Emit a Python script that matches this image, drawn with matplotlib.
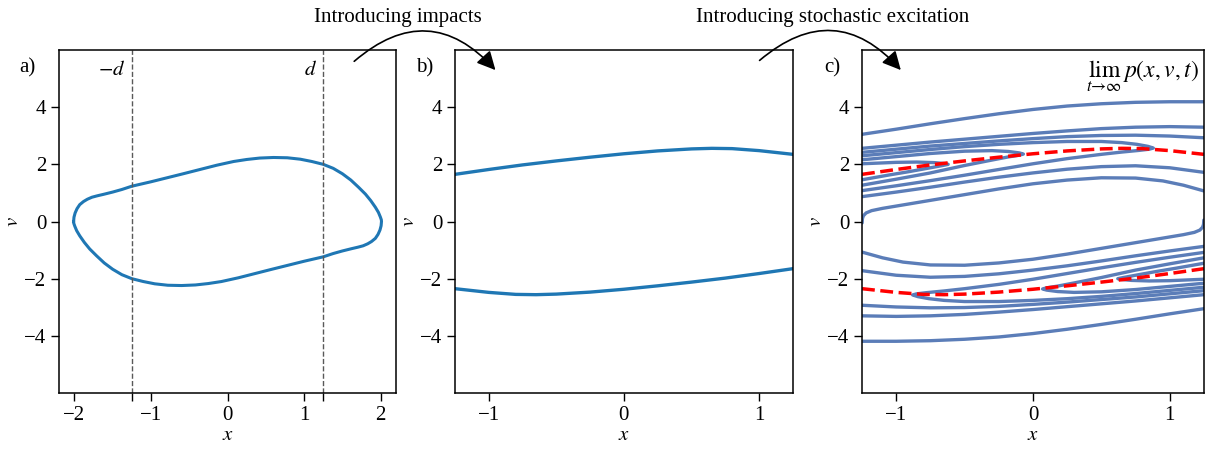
import matplotlib.pyplot as plt
from matplotlib.patches import FancyArrowPatch

plt.rcParams.update({
    'font.family': 'Liberation Serif',
    'mathtext.fontset': 'stix',
    'font.size': 15,
    'axes.linewidth': 1.1,
    'xtick.major.size': 5.5,
    'ytick.major.size': 5.5,
    'xtick.major.width': 1.0,
    'ytick.major.width': 1.0,
    'lines.solid_joinstyle': 'round',
})

# --- panel a: limit cycle of the free oscillator ---
loop_x = [-2.01, -2.005, -1.99, -1.965, -1.93, -1.88, -1.83, -1.77, -1.7, -1.62, -1.5, -1.38,
          -1.25, -1.0, -0.79, -0.58, -0.36, -0.14, 0.08, 0.25, 0.42, 0.6, 0.78, 0.95, 1.1,
          1.25, 1.38, 1.5, 1.61, 1.71, 1.8, 1.87, 1.93, 1.97, 1.995, 2.008,
          2.01, 2.005, 1.99, 1.965, 1.93, 1.88, 1.83, 1.77, 1.7, 1.62, 1.5, 1.38,
          1.25, 1.0, 0.79, 0.58, 0.36, 0.14, -0.08, -0.25, -0.42, -0.6, -0.78, -0.95, -1.1,
          -1.25, -1.38, -1.5, -1.61, -1.71, -1.8, -1.87, -1.93, -1.97, -1.995, -2.008, -2.01]
loop_v = [0.0, 0.15, 0.3, 0.45, 0.59, 0.7, 0.78, 0.85, 0.9, 0.95, 1.03, 1.12,
          1.235, 1.39, 1.53, 1.67, 1.82, 1.97, 2.1, 2.17, 2.22, 2.24, 2.23, 2.18, 2.1,
          2.0, 1.86, 1.67, 1.45, 1.2, 0.96, 0.73, 0.5, 0.32, 0.16, 0.06,
          0.0, -0.15, -0.3, -0.45, -0.59, -0.7, -0.78, -0.85, -0.9, -0.95, -1.03, -1.12,
          -1.235, -1.39, -1.53, -1.67, -1.82, -1.97, -2.1, -2.17, -2.22, -2.24, -2.23, -2.18, -2.1,
          -2.0, -1.86, -1.67, -1.45, -1.2, -0.96, -0.73, -0.5, -0.32, -0.16, -0.06, 0.0]
d = 1.25

# --- panel b: periodic orbit with impacts ---
orb_up_x = [-1.25, -1.0, -0.75, -0.5, -0.25, 0.0, 0.25, 0.5, 0.65, 0.8, 1.0, 1.25]
orb_up_v = [1.65, 1.82, 1.98, 2.12, 2.25, 2.37, 2.47, 2.54, 2.56, 2.55, 2.48, 2.35]
orb_lo_x = [-1.25, -1.0, -0.8, -0.65, -0.5, -0.25, 0.0, 0.25, 0.5, 0.75, 1.0, 1.25]
orb_lo_v = [-2.35, -2.48, -2.55, -2.56, -2.54, -2.47, -2.37, -2.25, -2.12, -1.98, -1.82, -1.65]

# --- panel c: contour lines of the stationary density ---
grid_x = [-1.25, -1.0, -0.75, -0.5, -0.25, 0.0, 0.25, 0.5, 0.75, 1.0, 1.25]
grid_xr = [1.25, 1.0, 0.75, 0.5, 0.25, 0.0, -0.25, -0.5, -0.75, -1.0, -1.25]

u1_v = [3.05, 3.23, 3.42, 3.6, 3.77, 3.92, 4.04, 4.12, 4.17, 4.19, 4.19]
ua_v = [2.56, 2.67, 2.78, 2.88, 2.98, 3.08, 3.17, 3.25, 3.3, 3.32, 3.3]
ub_v = [2.42, 2.53, 2.64, 2.73, 2.82, 2.9, 2.97, 3.01, 3.02, 2.99, 2.93]
uf_v = [0.87, 1.03, 1.2, 1.38, 1.55, 1.7, 1.83, 1.92, 1.95, 1.88, 1.72]
uc_x = [-1.25, -1.0, -0.75, -0.5, -0.25, 0.0, 0.25, 0.5, 0.65, 0.76, 0.84, 0.88, 0.85, 0.78,
        0.65, 0.5, 0.25, 0.0, -0.25, -0.5, -0.75, -1.0, -1.25]
uc_v = [2.3, 2.41, 2.52, 2.62, 2.7, 2.76, 2.8, 2.8, 2.76, 2.7, 2.63, 2.57, 2.53, 2.49,
        2.43, 2.35, 2.2, 2.02, 1.82, 1.62, 1.43, 1.25, 1.08]
uhb_x = [-1.25, -1.0, -0.75, -0.5, -0.3, -0.18, -0.1, -0.07, -0.1, -0.18, -0.3, -0.5, -0.75, -1.0, -1.25]
uhb_v = [2.16, 2.27, 2.38, 2.46, 2.48, 2.45, 2.4, 2.36, 2.32, 2.26, 2.15, 1.96, 1.7, 1.48, 1.27]
uha_x = [-1.25, -1.0, -0.85, -0.72, -0.65, -0.62, -0.66, -0.75, -0.9, -1.05, -1.25]
uha_v = [2.02, 2.07, 2.08, 2.06, 2.03, 2.0, 1.96, 1.88, 1.75, 1.63, 1.46]
ug_x = [-1.249, -1.247, -1.24, -1.22, -1.18, -1.1, -1.0, -0.75, -0.5, -0.25, 0.0, 0.25, 0.5,
        0.75, 0.95, 1.1, 1.25]
ug_v = [-0.05, 0.1, 0.2, 0.3, 0.38, 0.46, 0.54, 0.74, 0.94, 1.14, 1.32, 1.45, 1.53,
        1.52, 1.42, 1.27, 1.07]

l1_v = [-3.05, -3.23, -3.42, -3.6, -3.77, -3.92, -4.04, -4.12, -4.17, -4.19, -4.19]
la_v = [-2.56, -2.67, -2.78, -2.88, -2.98, -3.08, -3.17, -3.25, -3.3, -3.32, -3.3]
lb_v = [-2.42, -2.53, -2.64, -2.73, -2.82, -2.9, -2.97, -3.01, -3.02, -2.99, -2.93]
lf_v = [-0.87, -1.03, -1.2, -1.38, -1.55, -1.7, -1.83, -1.92, -1.95, -1.88, -1.72]
lc_x = [1.25, 1.0, 0.75, 0.5, 0.25, 0.0, -0.25, -0.5, -0.65, -0.76, -0.84, -0.88, -0.85, -0.78,
        -0.65, -0.5, -0.25, 0.0, 0.25, 0.5, 0.75, 1.0, 1.25]
lc_v = [-2.3, -2.41, -2.52, -2.62, -2.7, -2.76, -2.8, -2.8, -2.76, -2.7, -2.63, -2.57, -2.53, -2.49,
        -2.43, -2.35, -2.2, -2.02, -1.82, -1.62, -1.43, -1.25, -1.08]
lhb_x = [1.25, 1.0, 0.75, 0.5, 0.3, 0.18, 0.1, 0.07, 0.1, 0.18, 0.3, 0.5, 0.75, 1.0, 1.25]
lhb_v = [-2.16, -2.27, -2.38, -2.46, -2.48, -2.45, -2.4, -2.36, -2.32, -2.26, -2.15, -1.96, -1.7, -1.48, -1.27]
lha_x = [1.25, 1.0, 0.85, 0.72, 0.65, 0.62, 0.66, 0.75, 0.9, 1.05, 1.25]
lha_v = [-2.02, -2.07, -2.08, -2.06, -2.03, -2.0, -1.96, -1.88, -1.75, -1.63, -1.46]
lg_x = [1.249, 1.247, 1.24, 1.22, 1.18, 1.1, 1.0, 0.75, 0.5, 0.25, 0.0, -0.25, -0.5,
        -0.75, -0.95, -1.1, -1.25]
lg_v = [0.05, -0.1, -0.2, -0.3, -0.38, -0.46, -0.54, -0.74, -0.94, -1.14, -1.32, -1.45, -1.53,
        -1.52, -1.42, -1.27, -1.07]

contours = [(grid_x, u1_v), (grid_x, ua_v), (grid_x, ub_v), (grid_x, uf_v),
            (uc_x, uc_v), (uhb_x, uhb_v), (uha_x, uha_v), (ug_x, ug_v),
            (grid_xr, l1_v), (grid_xr, la_v), (grid_xr, lb_v), (grid_xr, lf_v),
            (lc_x, lc_v), (lhb_x, lhb_v), (lha_x, lha_v), (lg_x, lg_v)]

yticks = [-4, -2, 0, 2, 4]

fig = plt.figure(figsize=(12.1, 4.51), dpi=100)
ax_a = fig.add_axes([0.0488, 0.1286, 0.2785, 0.7605])
ax_b = fig.add_axes([0.376, 0.1286, 0.2793, 0.7605])
ax_c = fig.add_axes([0.7124, 0.1286, 0.2826, 0.7605])

blue = '#1f77b4'

ax_a.plot(loop_x, loop_v, color=blue, lw=2.2)
ax_a.axvline(-d, color='0.35', ls='--', lw=1)
ax_a.axvline(d, color='0.35', ls='--', lw=1)
ax_a.text(-d - 0.08, 5.3, '$-d$', ha='right', va='center')
ax_a.text(d - 0.08, 5.3, '$d$', ha='right', va='center')
ax_a.set_xlim(-2.2, 2.2)
ax_a.set_xticks([-2, -1, 0, 1, 2])
ax_a.set_xticks([-d, d], minor=True)
ax_a.tick_params(which='minor', length=5.5, width=1.0)

ax_b.plot(orb_up_x, orb_up_v, color=blue, lw=2.4)
ax_b.plot(orb_lo_x, orb_lo_v, color=blue, lw=2.4)
ax_b.set_xlim(-1.25, 1.25)

for cx, cv in contours:
    ax_c.plot(cx, cv, color='#5b7db8', lw=2.4, solid_capstyle='round')
ax_c.plot(orb_up_x, orb_up_v, color='red', ls='--', lw=2.5)
ax_c.plot(orb_lo_x, orb_lo_v, color='red', ls='--', lw=2.5)
ax_c.set_xlim(-1.25, 1.25)
ax_c.text(0.985, 0.975, r'$\lim_{t\to\infty}\,p(x,v,t)$', transform=ax_c.transAxes,
          ha='right', va='top', fontsize=17)

for ax in (ax_a, ax_b, ax_c):
    ax.set_ylim(-6, 6)
    ax.set_yticks(yticks)
    ax.set_xlabel('$x$', labelpad=1)
    ax.set_ylabel('$v$', labelpad=1)
    if ax is not ax_a:
        ax.set_xticks([-1, 0, 1])

fig.text(0.023, 0.849, 'a)', ha='center', va='center')
fig.text(0.351, 0.849, 'b)', ha='center', va='center')
fig.text(0.688, 0.849, 'c)', ha='center', va='center')

fig.text(0.329, 0.962, 'Introducing impacts', ha='center', va='center')
fig.text(0.688, 0.962, 'Introducing stochastic excitation', ha='center', va='center')

arr1 = FancyArrowPatch((0.291, 0.860), (0.411, 0.840), transform=fig.transFigure,
                       connectionstyle='arc3,rad=-0.5', arrowstyle='-|>',
                       mutation_scale=28, lw=1.2, color='black')
arr2 = FancyArrowPatch((0.626, 0.862), (0.746, 0.840), transform=fig.transFigure,
                       connectionstyle='arc3,rad=-0.5', arrowstyle='-|>',
                       mutation_scale=28, lw=1.2, color='black')
fig.add_artist(arr1)
fig.add_artist(arr2)

fig.savefig('out.png', dpi=100)
